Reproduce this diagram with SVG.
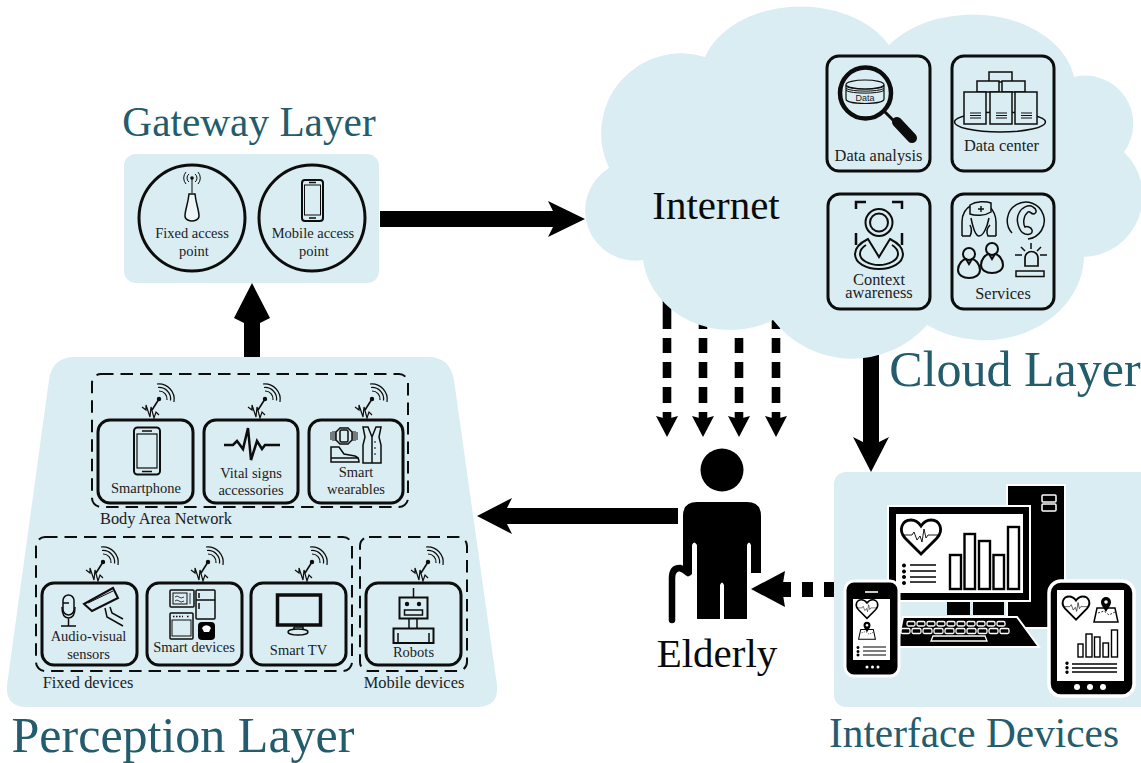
<svg xmlns="http://www.w3.org/2000/svg" xmlns:xlink="http://www.w3.org/1999/xlink" width="1141" height="763" viewBox="0 0 1141 763">
<style>
svg{stroke-width:1.5}
text{font-family:"Liberation Serif","Times New Roman",serif;text-anchor:middle;fill:#1c1c1c;stroke:none}
.t{fill:#235c6c}
.s41{font-size:41.300px}.s50{font-size:50px}
.k{fill:#0a0a0a;font-size:41px}
.l{font-size:14.500px}.m{font-size:16.400px}
.panel{fill:#daedf3}
.box{fill:#daedf3;stroke:#0d0d0d;stroke-width:3}
.dash{fill:none;stroke:#0d0d0d;stroke-width:2;stroke-dasharray:12.500 7}
.ic{fill:none;stroke:#0d0d0d}
.ip{fill:#daedf3;stroke:#0d0d0d}
.b{fill:#000}
.w{fill:#fff}
.bw{fill:#000;stroke:#fff}
.wb{fill:#fff;stroke:#000}
</style>
<defs>
<g id="ant" class="ic" stroke-width="1.200">
<circle cx="0" cy="0" r="1.600" fill="#0d0d0d"/>
<path d="M0 0L-7 11" stroke-width="1.600"/>
<path d="M0-8A8 8 0 0 1 8 1M-1-11.500A11.500 11.500 0 0 1 11.500 1.500M-2-15A15.500 15.500 0 0 1 15 3"/>
<path d="M-17 8L-13 11L-13 6L-9 18L-8 8L-5 19L-3 13L0 16" stroke-width="1.200"/>
</g>
<g id="heart">
<path d="M0 17L-16 1C-23-7-19-17-10-17C-5-17-2-14 0-11C2-14 5-17 10-17C19-17 23-7 16 1Z" fill="#fff" stroke="#000" stroke-width="2.800"/>
<path d="M-18-2H-9L-7-5L-4 3L-1-1L1 5L3-8L5 1L7-2H18" fill="none" stroke="#000" stroke-width="0.900"/>
</g>
<g id="map">
<path d="M-9 2L9 2L12 16L-12 16Z" fill="#fff" stroke="#000" stroke-width="1.500"/>
<path d="M-8 7L-2 5L3 9L9 6" fill="none" stroke="#000" stroke-width="0.800" stroke-dasharray="2 1.500"/>
<path d="M0 6C-3 1-5-1-5-4A5 5 0 0 1 5-4C5-1 3 1 0 6Z" fill="#000"/>
<circle cx="0" cy="-4" r="1.800" fill="#fff"/>
</g>
<g id="phoneic">
<rect x="0" y="0" width="21" height="41" rx="3" fill="#daedf3" stroke="#0d0d0d" stroke-width="2"/>
<rect x="2.500" y="5" width="16" height="30" fill="none" stroke="#0d0d0d" stroke-width="1"/>
<path d="M7 2.500H14M7 38H14" stroke="#0d0d0d" stroke-width="1.500"/>
</g>
<g id="person" class="ic" stroke-width="2">
<circle cx="0" cy="-9" r="6"/>
<path d="M-3-4L0 1L3-4C6-4 11 1 11 7C11 12 6 15 0 15C-6 15-11 12-11 7C-11 1-6-4-3-4Z"/>
</g>
</defs>

<g id="connectors">
<path class="b" d="M380 211H553L548 201L585 219L548 237L553 227H380Z"/>
<path class="b" d="M244 358V323L234 318L252 283L270 318L260 323V358Z"/>
<path class="b" d="M678 508H507L512 498L477 516L512 534L507 524H678Z"/>
<path class="b" d="M863 340H879V442L889 437L871 472L853 437L863 442Z"/>
<g stroke="#000" stroke-width="8.600" fill="none">
<path d="M667 300V329M667 338V353M667 362V378M667 387V403M667 412V422M703 300V329M703 338V353M703 362V378M703 387V403M703 412V422M739 300V329M739 338V353M739 362V378M739 387V403M739 412V422M776 300V329M776 338V353M776 362V378M776 387V403M776 412V422"/>
<path stroke-width="15" d="M834 589.500H824M813 589.500H802M791 589.500H780"/>
</g>
<path class="b" d="M656 416L667 419L678 416L667 437ZM692 416L703 419L714 416L703 437ZM728 416L739 419L750 416L739 437ZM765 416L776 419L787 416L776 437Z"/>
<path class="b" d="M751 589L785 571L782 589L785 607Z"/>
</g>

<g id="cloud-layer">
<path class="panel" d="M705 57A100 72 0 0 1 889 45A103 74 0 0 1 1074 77A48 48 0 0 1 1124 152A61 61 0 0 1 1084 257A100 85 0 0 1 927 325A100 100 0 0 1 773 320A88 80 0 0 1 643 260A50 50 0 0 1 609 168A80 80 0 0 1 705 57Z"/>
<text class="k" x="716" y="219">Internet</text>
<text class="t s50" x="1015" y="386">Cloud Layer</text>
</g>

<g id="data-analysis">
<rect class="box" x="827" y="56" width="103" height="115" rx="12"/>
<path class="ic" stroke-width="1.200" d="M846 85V99C846 105 884 105 884 99V85"/>
<ellipse class="ic" stroke-width="1.200" cx="865" cy="84.500" rx="19" ry="4.500"/>
<path class="ic" stroke-width="1" d="M846 86.500C852 90 878 90 884 86.500M846 88.500C852 92 878 92 884 88.500M846 90.500C852 94 878 94 884 90.500"/>
<text x="865" y="101" style="font-family:'Liberation Sans',sans-serif;font-size:9px">Data</text>
<circle cx="865.500" cy="93" r="25.500" fill="none" stroke="#0d0d0d" stroke-width="4.500"/>
<path d="M884 111L895 122" stroke="#0d0d0d" stroke-width="3"/>
<path d="M897 122L912 138" stroke="#0d0d0d" stroke-width="10" stroke-linecap="round"/>
<text class="m" x="878.500" y="161">Data analysis</text>
</g>

<g id="data-center">
<rect class="box" x="952" y="56" width="102" height="115" rx="12"/>
<ellipse class="ic" cx="1000" cy="122" rx="45.500" ry="10"/>
<rect class="ip" x="989" y="72" width="23" height="10"/>
<rect class="ip" x="977" y="81" width="22" height="11"/>
<rect class="ip" x="1002" y="81" width="23" height="11"/>
<rect class="ip" x="964" y="92" width="22" height="32"/>
<rect class="ip" x="990" y="92" width="22" height="32"/>
<rect class="ip" x="1015" y="92" width="22" height="32"/>
<path class="ic" stroke-width="1" d="M970 113H981M970 115.500H981M970 118H981M996 113H1007M996 115.500H1007M996 118H1007M1021 113H1032M1021 115.500H1032M1021 118H1032"/>
<text class="m" x="1001.500" y="151">Data center</text>
</g>

<g id="context-awareness">
<rect class="box" x="828" y="194" width="102" height="115" rx="12"/>
<path class="ic" stroke-width="2.500" d="M856 209V202H866M892 202H902V209M856 233V245M902 233V245"/>
<circle class="ic" stroke-width="2" cx="879" cy="222.500" r="13.500"/>
<circle class="ic" stroke-width="2" cx="879" cy="222.500" r="9"/>
<path class="ic" stroke-width="2" d="M868 239C860 243 855 248 855 254C855 263 866 269 879 269C892 269 903 263 903 254C903 248 898 243 890 239L879 257Z"/>
<path class="ic" stroke-width="2" d="M866 245C861 248 860 251 860 254C860 260 869 265 879 265C889 265 898 260 898 254C898 251 897 248 892 245"/>
<text class="m" x="879" y="285">Context</text>
<text class="m" x="879" y="298">awareness</text>
</g>

<g id="services">
<rect class="box" x="952" y="194" width="102" height="115" rx="12"/>
<path class="ic" d="M962 236V222C962 212 968 207 972 205M996 236V222C996 212 990 207 988 205M962 236H970C972 232 972 229 970 225M996 236H988C986 232 986 229 990 225"/>
<path class="ip" d="M970 205C976 201 986 201 991 203V212C985 216 975 216 970 214Z"/>
<path class="ic" d="M971 218C973 228 976 236 979 236C983 236 987 228 989 218"/>
<path class="ic" stroke-width="1.400" d="M981 206V212M978 209H984"/>
<path class="ic" d="M1012 233A18.500 18.500 0 1 1 1028 239"/>
<path class="ic" d="M1033 207C1037 209 1037 213 1034 214C1030 214 1031 211 1028 212C1023 216 1023 224 1025 227C1027 226 1031 227 1032 230C1033 234 1029 235 1025 234C1019 232 1015 220 1019 213C1022 207 1029 204 1033 207Z"/>
<use xlink:href="#person" href="#person" x="969" y="263"/>
<use xlink:href="#person" href="#person" x="992" y="258"/>
<path class="ic" stroke-width="1.700" d="M1025 266V258A6.500 6.500 0 0 1 1038 258V266Z"/>
<rect class="ip" x="1016" y="271" width="28" height="5.500"/>
<path class="ic" d="M1031 243V249M1021 247L1025 251M1041 247L1037 251M1015 255H1022M1040 255H1047"/>
<text class="m" x="1003" y="299">Services</text>
</g>

<g id="gateway-layer">
<rect class="panel" x="124" y="154" width="255" height="129" rx="12"/>
<text class="t s41" x="249" y="136">Gateway Layer</text>
</g>
<g id="fixed-access-point">
<circle cx="192" cy="218" r="53" fill="none" stroke="#0d0d0d" stroke-width="3"/>
<circle cx="192" cy="178" r="1.800" fill="#0d0d0d"/>
<path class="ic" stroke-width="1" d="M192 178V193M189 174A5 5 0 0 0 189 182M195 174A5 5 0 0 1 195 182M186 172A9 9 0 0 0 186 184M198 172A9 9 0 0 1 198 184"/>
<path d="M189 194H195C196 204 199 210 199 216C199 220 194 221 192 221C190 221 185 220 185 216C185 210 188 204 189 194Z" fill="#eef6f8" stroke="#0d0d0d" stroke-width="1.500"/>
<text class="l" x="192" y="238">Fixed access</text>
<text class="l" x="194" y="256">point</text>
</g>
<g id="mobile-access-point">
<circle cx="312" cy="218" r="53" fill="none" stroke="#0d0d0d" stroke-width="3"/>
<use xlink:href="#phoneic" href="#phoneic" x="302" y="180"/>
<text class="l" x="313" y="238">Mobile access</text>
<text class="l" x="314" y="256">point</text>
</g>

<g id="perception-layer">
<path class="panel" d="M75 357H428Q450 357 454 380L497 685Q499 707 477 707H28Q5 707 7 685L49 380Q52 357 75 357Z"/>
<text class="t s50" x="183" y="752">Perception Layer</text>
</g>
<g id="body-area-network">
<rect class="dash" x="92" y="374" width="316" height="133" rx="9"/>
<text class="m" x="166" y="524">Body Area Network</text>
</g>
<g id="fixed-devices">
<rect class="dash" x="36" y="537" width="316" height="134" rx="9"/>
<text class="m" x="88" y="688">Fixed devices</text>
</g>
<g id="mobile-devices">
<rect class="dash" x="360" y="537" width="107" height="134" rx="9"/>
<text class="m" x="414" y="688">Mobile devices</text>
</g>

<g id="smartphone">
<use xlink:href="#ant" href="#ant" x="159" y="399"/>
<rect class="box" x="98" y="420" width="95" height="83" rx="12"/>
<rect x="134" y="427.500" width="26" height="47" rx="3.500" fill="#daedf3" stroke="#0d0d0d" stroke-width="2"/>
<rect x="137" y="434" width="20" height="34" fill="none" stroke="#0d0d0d" stroke-width="1.200"/>
<path stroke="#0d0d0d" stroke-width="1.500" d="M142 431H152M142 471.500H152"/>
<text class="l" x="146" y="493">Smartphone</text>
</g>
<g id="vital-signs">
<use xlink:href="#ant" href="#ant" x="265" y="399"/>
<rect class="box" x="204" y="420" width="94" height="83" rx="12"/>
<path fill="none" stroke="#0d0d0d" stroke-width="2.500" d="M224 445H233L237 441L243 449L248 428L251 460L257 441L262 449L265 445H280"/>
<text class="l" x="251" y="478">Vital signs</text>
<text class="l" x="251" y="495">accessories</text>
</g>
<g id="smart-wearables">
<use xlink:href="#ant" href="#ant" x="372" y="399"/>
<rect class="box" x="309" y="420" width="94" height="83" rx="12"/>
<path class="ic" d="M340 428H348L352 432V440L348 444H340L336 440V432Z"/>
<rect class="ic" x="340" y="430" width="8" height="12" rx="1.500"/>
<path class="ic" stroke-width="1" d="M331 432V440M333 431V441M335 431V441M353 431V441M355 431V441M357 432V440"/>
<path class="ic" d="M363 427H368L372 437L376 427H381L379 437L381 445V463H363V445L365 437ZM372 437V463"/>
<path class="ic" stroke-width="1" d="M374 442H376M374 448H376M374 454H376"/>
<path class="ic" d="M331 447H339L344 454L355 456C358 457 359 459 359 462H331ZM331 458H359"/>
<text class="l" x="356" y="477">Smart</text>
<text class="l" x="356" y="494">wearables</text>
</g>
<g id="audio-visual-sensors">
<use xlink:href="#ant" href="#ant" x="103" y="562"/>
<rect class="box" x="42" y="583" width="95" height="82" rx="12"/>
<rect class="ic" x="63" y="595" width="11" height="20" rx="5.500"/>
<path class="ic" d="M62 607C62 615 64 618 68.500 618C73 618 75 615 75 607M68.500 618V626M61 626H76M63 603H69"/>
<path class="ic" stroke-width="2" d="M84 604L113 588L118 598L92 611Z"/>
<path class="ic" stroke-width="1" d="M88 603L113 591"/>
<path class="ic" d="M105 608L107 617L123 626M110 607L112 613L123 619"/>
<text class="l" x="88.500" y="641">Audio-visual</text>
<text class="l" x="88.500" y="659">sensors</text>
</g>
<g id="smart-devices">
<use xlink:href="#ant" href="#ant" x="208" y="562"/>
<rect class="box" x="147" y="583" width="95" height="82" rx="12"/>
<rect class="ic" x="170" y="590" width="24" height="17" rx="1"/>
<rect class="ic" stroke-width="1" x="173" y="593" width="14" height="11"/>
<path class="ic" stroke-width="0.800" d="M175 597Q177 595 179 597T184 597M175 601Q177 599 179 601T184 601M190 593V604"/>
<rect class="ic" x="196" y="590" width="19" height="29" rx="1"/>
<path class="ic" d="M196 600H215M199 593V598M199 603V609"/>
<rect class="ic" x="170" y="613" width="23" height="26" rx="1"/>
<rect class="ic" stroke-width="1" x="172" y="620" width="19" height="16"/>
<path class="ic" stroke-dasharray="1.500 1.500" d="M173 616.500H183M187 616.500H190"/>
<rect class="b" x="198" y="622" width="17" height="18" rx="4"/>
<path fill="#fff" d="M202 628A5 5 0 0 1 211 628L209 632H204Z"/>
<text class="l" x="194" y="652">Smart devices</text>
</g>
<g id="smart-tv">
<use xlink:href="#ant" href="#ant" x="312" y="562"/>
<rect class="box" x="251" y="583" width="95" height="82" rx="12"/>
<rect fill="none" stroke="#0d0d0d" stroke-width="3.500" x="277.500" y="595" width="43" height="30"/>
<path class="ic" d="M294 627H303V630M294 627V630"/>
<ellipse class="ic" cx="298" cy="632" rx="10" ry="3"/>
<text class="l" x="298.500" y="655">Smart TV</text>
</g>
<g id="robots">
<use xlink:href="#ant" href="#ant" x="428" y="562"/>
<rect class="box" x="366" y="583" width="95" height="82" rx="12"/>
<path class="ic" d="M413.500 588V597"/>
<rect class="ic" stroke-width="2" x="399.500" y="597.500" width="28" height="21"/>
<circle cx="407" cy="604" r="2.200" fill="#0d0d0d"/>
<circle cx="419" cy="604" r="2.200" fill="#0d0d0d"/>
<rect class="ic" x="404.500" y="610" width="18" height="5"/>
<path class="ic" d="M409 619V628M417 619V628"/>
<rect class="ic" stroke-width="2" x="393.500" y="628.500" width="40" height="14.500"/>
<path class="ic" d="M398 633V643M429 633V643"/>
<text class="l" x="413.500" y="657">Robots</text>
</g>

<g id="elderly">
<circle class="b" cx="722" cy="470" r="21.500"/>
<path class="b" d="M697 502H747Q761 502 761 516V573H751V545Q749 540 747 545V619H724V585Q722 580 720 585V619H697V545Q694 540 692 545V574Q689 577 686 574L683 570V516Q683 502 697 502Z"/>
<path fill="none" stroke="#000" stroke-width="6.500" stroke-linecap="round" d="M672 620V578Q672 568 680 568Q684 569 688 573"/>
<text class="k" x="717" y="667">Elderly</text>
</g>

<g id="interface-devices">
<rect class="panel" x="834" y="472" width="320" height="235" rx="12"/>
<text class="t s41" x="974" y="747">Interface Devices</text>
<rect class="bw" stroke-width="2" x="1007" y="485" width="58" height="143"/>
<rect fill="none" stroke="#fff" stroke-width="1.500" x="1042" y="495" width="14" height="7" rx="1"/>
<rect fill="none" stroke="#fff" stroke-width="1.500" x="1042" y="504" width="14" height="7" rx="1"/>
<rect class="bw" stroke-width="2" x="888" y="506" width="142" height="95"/>
<rect class="w" x="896" y="514" width="127" height="79"/>
<use xlink:href="#heart" href="#heart" transform="translate(921 537)"/>
<path class="b" d="M904 563.500a2 2 0 1 0 .01 0zM904 569.500a2 2 0 1 0 .01 0zM904 575a2 2 0 1 0 .01 0zM904 581a2 2 0 1 0 .01 0z"/>
<path d="M910 565H936M910 571H936M910 577H936M910 582H936" stroke="#000" stroke-width="1.700"/>
<rect class="wb" stroke-width="2.400" x="950" y="555" width="11" height="34"/>
<rect class="wb" stroke-width="2.400" x="964.500" y="534" width="10.500" height="55"/>
<rect class="wb" stroke-width="2.400" x="979" y="541" width="11" height="48"/>
<rect class="wb" stroke-width="2.400" x="993.500" y="555" width="10.500" height="34"/>
<rect class="wb" stroke-width="2.400" x="1008" y="527" width="11" height="62"/>
<rect class="b" x="947" y="602" width="23" height="13"/>
<rect class="b" x="973" y="602" width="31" height="13"/>
<path class="bw" stroke-width="2" d="M903 617H1017L1039 647H897Z"/>
<g fill="none" stroke="#fff" stroke-width="1.300">
<rect x="907" y="621.500" width="8" height="4.500" rx="1.500"/><rect x="917" y="621.500" width="8" height="4.500" rx="1.500"/><rect x="927" y="621.500" width="8" height="4.500" rx="1.500"/><rect x="937" y="621.500" width="8" height="4.500" rx="1.500"/><rect x="947" y="621.500" width="8" height="4.500" rx="1.500"/><rect x="957" y="621.500" width="8" height="4.500" rx="1.500"/><rect x="967" y="621.500" width="8" height="4.500" rx="1.500"/><rect x="977" y="621.500" width="8" height="4.500" rx="1.500"/><rect x="987" y="621.500" width="8" height="4.500" rx="1.500"/><rect x="997" y="621.500" width="8" height="4.500" rx="1.500"/>
<rect x="901" y="628.500" width="9" height="5" rx="1.500"/><rect x="912" y="628.500" width="9" height="5" rx="1.500"/><rect x="923" y="628.500" width="9" height="5" rx="1.500"/><rect x="934" y="628.500" width="9" height="5" rx="1.500"/><rect x="945" y="628.500" width="9" height="5" rx="1.500"/><rect x="956" y="628.500" width="9" height="5" rx="1.500"/><rect x="967" y="628.500" width="9" height="5" rx="1.500"/><rect x="978" y="628.500" width="9" height="5" rx="1.500"/><rect x="989" y="628.500" width="9" height="5" rx="1.500"/><rect x="1000" y="628.500" width="9" height="5" rx="1.500"/>
<path d="M933 636H985L987 641H931Z"/>
</g>
<rect x="845" y="581" width="54" height="95" rx="9" class="b" stroke="#fff" stroke-width="3"/>
<path stroke="#fff" stroke-width="1.600" d="M865 592H878"/>
<rect class="w" x="853" y="599" width="37" height="61"/>
<use xlink:href="#heart" href="#heart" transform="translate(867 609) scale(.55)"/>
<use xlink:href="#map" href="#map" transform="translate(867 628) scale(.7)"/>
<path class="b" d="M858 646a1.500 1.500 0 1 0 .01 0zM858 650a1.500 1.500 0 1 0 .01 0zM858 653.500a1.500 1.500 0 1 0 .01 0z"/>
<path d="M863 647H886M863 651H886M863 655H886" stroke="#000" stroke-width="1.100"/>
<circle class="w" cx="867" cy="667" r="1.500"/><circle class="w" cx="872.500" cy="667" r="1.500"/><circle class="w" cx="878" cy="667" r="1.500"/>
<rect x="1049" y="581" width="85" height="115" rx="12" class="b" stroke="#fff" stroke-width="3.500"/>
<rect class="w" x="1057" y="590" width="67" height="91"/>
<use xlink:href="#heart" href="#heart" transform="translate(1076 608) scale(.68)"/>
<use xlink:href="#map" href="#map" transform="translate(1106 606)"/>
<rect class="wb" stroke-width="1.400" x="1078" y="644" width="5" height="13"/>
<rect class="wb" stroke-width="1.400" x="1086" y="634" width="6" height="23"/>
<rect class="wb" stroke-width="1.400" x="1094.500" y="637" width="5.500" height="20"/>
<rect class="wb" stroke-width="1.400" x="1103" y="643" width="5.500" height="14"/>
<rect class="wb" stroke-width="1.400" x="1111.500" y="630" width="6" height="27"/>
<path class="b" d="M1067 661.500a1.700 1.700 0 1 0 .01 0zM1067 666a1.700 1.700 0 1 0 .01 0zM1067 670.500a1.700 1.700 0 1 0 .01 0z"/>
<path d="M1072 664H1117M1072 668H1117M1072 672H1117" stroke="#000" stroke-width="1.300"/>
<circle class="w" cx="1077" cy="687" r="3"/><circle class="w" cx="1090" cy="687" r="3"/><circle class="w" cx="1103" cy="687" r="3"/>
</g>
</svg>
